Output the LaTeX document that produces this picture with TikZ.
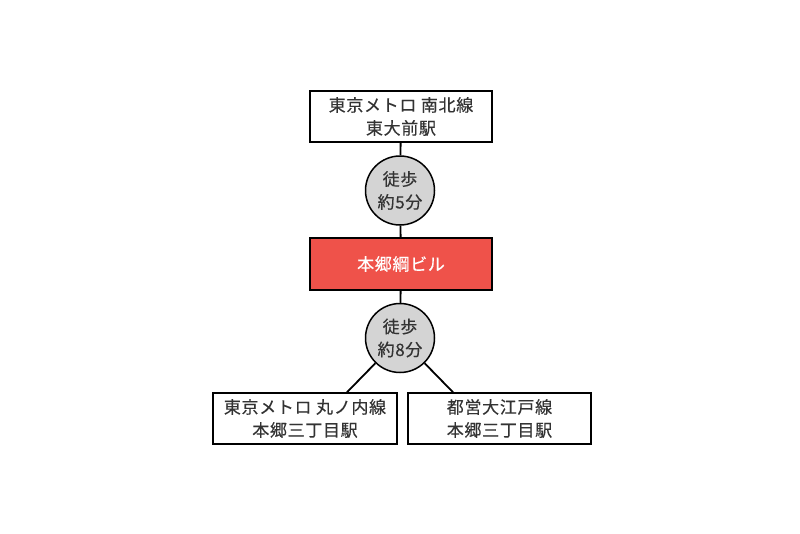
\documentclass[tikz,border=0pt]{standalone}
\usepackage{fontspec}
\setmainfont{Noto Sans CJK JP}[LetterSpace=4,FakeBold=0.35]
\definecolor{txt}{HTML}{333333}
\definecolor{redfill}{HTML}{EF524A}
\definecolor{circfill}{HTML}{D4D4D4}
\tikzset{
  stationbox/.style={draw=black, line width=1.5pt, fill=white, minimum width=182pt, minimum height=51pt, inner sep=0pt, align=center, text=txt, font=\fontsize{17}{23}\selectfont},
  buildingbox/.style={draw=black, line width=1.5pt, fill=redfill, minimum width=182pt, minimum height=52pt, inner sep=0pt, align=center, text=white, font=\fontsize{17}{23}\selectfont},
  walkcircle/.style={draw=black, line width=1.5pt, fill=circfill, circle, minimum size=69pt, inner sep=0pt, align=center, text=txt, font=\fontsize{17}{23}\selectfont},
  link/.style={draw=black, line width=1.8pt}
}
\begin{document}
\begin{tikzpicture}[x=1pt,y=-1pt]
\useasboundingbox (0,0) rectangle (800,533);
\node[stationbox] (top) at (401,116.5) {東京メトロ 南北線\\東大前駅};
\node[walkcircle] (c1) at (400,190.5) {徒歩\\約5分};
\node[buildingbox] (bld) at (401,264) {本郷綱ビル};
\node[walkcircle] (c2) at (400,338) {徒歩\\約8分};
\node[stationbox, minimum width=184pt] (bl) at (305,418.5) {東京メトロ 丸ノ内線\\本郷三丁目駅};
\node[stationbox, minimum width=183pt] (br) at (499.5,418.5) {都営大江戸線\\本郷三丁目駅};
\draw[link] (top) -- (c1);
\draw[link] (c1) -- (bld);
\draw[link] (bld) -- (c2);
\draw[link] (c2) -- ([xshift=42pt]bl.north);
\draw[link] (c2) -- ([xshift=-46.5pt]br.north);
\end{tikzpicture}
\end{document}
